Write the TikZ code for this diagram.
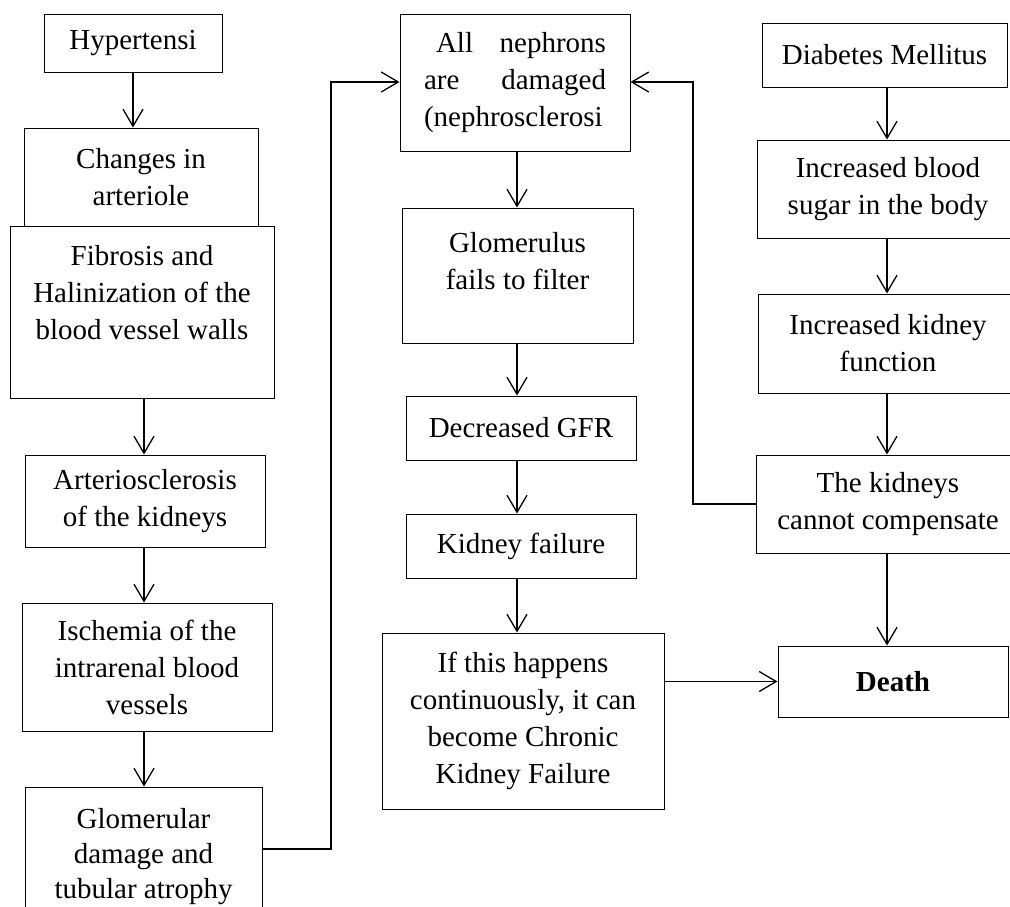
\documentclass[tikz,border=0pt]{standalone}
\usepackage{fontspec}
\setmainfont{Liberation Serif}
\usetikzlibrary{arrows.meta}
\begin{document}
\begin{tikzpicture}[x=1pt,y=-1pt,
  box/.style={draw, line width=1pt, inner sep=0pt, align=center, font=\fontsize{29}{37}\selectfont},
  txt/.style={inner sep=0pt, align=center, font=\fontsize{29}{37}\selectfont},
  arr/.style={line width=1.3pt, -{Straight Barb[length=17pt,width=20pt,line width=1.3pt]}}]
\useasboundingbox (0,0) rectangle (1010,906);

% left column
\node[box, minimum width=178pt, minimum height=58pt] (hyp) at (133,43) {Hypertensi};
\node[box, minimum width=234pt, minimum height=98pt] (chg) at (141,177) {Changes in\\arteriole};
\node[box, minimum width=264pt, minimum height=172pt] (fib) at (142,312) {};
\node[txt, anchor=north] (fibt) at (142,245) {Fibrosis and\\Halinization of the\\blood vessel walls};
\node[box, minimum width=240pt, minimum height=92pt] (art) at (145,501) {Arteriosclerosis\\of the kidneys};
\node[box, minimum width=250pt, minimum height=128pt] (isc) at (147,667) {Ischemia of the\\intrarenal blood\\vessels};
\node[box, minimum width=237pt, minimum height=163pt] (glo) at (143.5,868.5) {};
\node[txt, anchor=north, font=\fontsize{29}{35}\selectfont] (glot) at (143.5,808) {Glomerular\\damage and\\tubular atrophy};

% middle column
\node[box, minimum width=230pt, minimum height=137pt] (neph) at (515,82.5)
  {\makebox[182pt][s]{\hspace*{12pt}All nephrons}\\\makebox[182pt][s]{are damaged}\\\makebox[182pt][l]{(nephrosclerosi}};
\node[box, minimum width=231pt, minimum height=135pt] (glf) at (517.5,275.5) {};
\node[txt, anchor=north] (glft) at (517.5,232) {Glomerulus\\fails to filter};
\node[box, minimum width=230pt, minimum height=64pt] (gfr) at (521,428) {Decreased GFR};
\node[box, minimum width=230pt, minimum height=64pt] (kf) at (521,546) {Kidney failure};
\node[box, minimum width=282pt, minimum height=176pt] (ifh) at (523,721) {If this happens\\continuously, it can\\become Chronic\\Kidney Failure};

% right column
\node[box, minimum width=245pt, minimum height=64pt] (dm) at (884.5,55) {Diabetes Mellitus};
\node[box, minimum width=262pt, minimum height=98pt] (ibs) at (888,189) {Increased blood\\sugar in the body};
\node[box, minimum width=260pt, minimum height=99pt] (ikf) at (888,343.5) {Increased kidney\\function};
\node[box, minimum width=264pt, minimum height=98pt] (kid) at (888,504) {The kidneys\\cannot compensate};
\node[box, minimum width=230pt, minimum height=71pt] (death) at (893,681.5) {\bfseries Death};

% guide coordinates
\coordinate (lx) at (144,0);
\coordinate (mx) at (517,0);
\coordinate (rx) at (887,0);
\coordinate (c1) at (331,849);
\coordinate (c2) at (331,82);
\coordinate (c3) at (693,504);
\coordinate (c4) at (693,82);

% left arrows
\draw[arr] (hyp.south) -- (hyp.south |- chg.north);
\draw[arr] (fib.south -| lx) -- (art.north -| lx);
\draw[arr] (art.south -| lx) -- (isc.north -| lx);
\draw[arr] (isc.south -| lx) -- (glo.north -| lx);

% middle arrows
\draw[arr] (neph.south -| mx) -- (glf.north -| mx);
\draw[arr] (glf.south -| mx) -- (gfr.north -| mx);
\draw[arr] (gfr.south -| mx) -- (kf.north -| mx);
\draw[arr] (kf.south -| mx) -- (ifh.north -| mx);

% right arrows
\draw[arr] (dm.south -| rx) -- (ibs.north -| rx);
\draw[arr] (ibs.south -| rx) -- (ikf.north -| rx);
\draw[arr] (ikf.south -| rx) -- (kid.north -| rx);
\draw[arr] (kid.south -| rx) -- (death.north -| rx);

% connectors
\draw[arr] (c1 -| glo.east) -- (c1) -- (c2) -- (c2 -| neph.west);
\draw[arr] (kid.west) -- (c3) -- (c4) -- (c4 -| neph.east);
\draw[arr] (death.west -| ifh.east) -- (death.west);
\end{tikzpicture}
\end{document}
